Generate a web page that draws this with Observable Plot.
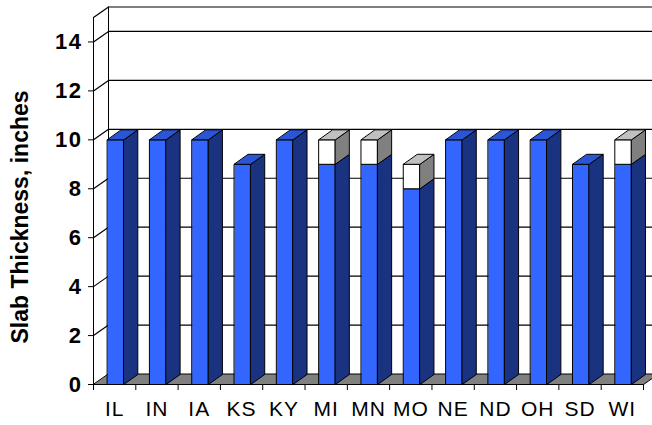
<!DOCTYPE html>
<html>
<head>
<meta charset="utf-8">
<script src="https://cdn.jsdelivr.net/npm/d3@7"></script>
<script src="https://cdn.jsdelivr.net/npm/@observablehq/plot@0.6"></script>
<style>
  html, body { margin: 0; padding: 0; background: #ffffff; }
  #chart { width: 652px; height: 425px; overflow: hidden; }
  g[aria-label="x-axis tick label"] text { letter-spacing: 1px; }
  g[aria-label="y-axis tick label"] text { letter-spacing: 1.5px; }
</style>
</head>
<body>
<div id="chart"></div>
<script>
// ---- data ----
const states = ["IL", "IN", "IA", "KS", "KY", "MI", "MN", "MO", "NE", "ND", "OH", "SD", "WI"];
const baseThickness = [10, 10, 10, 9, 10, 9, 9, 8, 10, 10, 10, 9, 9];
const extraThickness = [0, 0, 0, 0, 0, 1, 1, 1, 0, 0, 0, 0, 1];
const yTicks = [0, 2, 4, 6, 8, 10, 12, 14];
const yMax = 15;
const yTitle = "Slab Thickness, inches";

// ---- layout ----
const W = 652, H = 425;
const mL = 93, mR = 9, mT = 17, mB = 41;
const n = states.length;
const pxX = (W - mL - mR) / n;      // px per x unit (one category)
const pxY = (H - mT - mB) / yMax;   // px per y unit
// 3D depth offsets (pixels -> data units)
const wdx = 15 / pxX, wdy = 10.5 / pxY;   // walls / floor
const bdx = 14 / pxX, bdy = 10 / pxY;     // bars
const barOff = 14 / pxX, barW = 16.3 / pxX;

const font = "Arial, 'Liberation Sans', Helvetica, sans-serif";

function poly(list, id, pts) { pts.forEach(([x, y]) => list.push({id, x, y})); }

const blueFront = [], blueSide = [], blueTop = [], whiteFront = [], whiteSide = [], whiteTop = [];
states.forEach((s, i) => {
  const xl = i + barOff, xr = xl + barW;
  const segs = [{y0: 0, y1: baseThickness[i], f: blueFront, sd: blueSide, tp: blueTop}];
  if (extraThickness[i] > 0) {
    segs.push({y0: baseThickness[i], y1: baseThickness[i] + extraThickness[i], f: whiteFront, sd: whiteSide, tp: whiteTop});
  }
  segs.forEach((g, k) => {
    poly(g.f, s, [[xl, g.y0], [xr, g.y0], [xr, g.y1], [xl, g.y1]]);
    poly(g.sd, s, [[xr, g.y0], [xr + bdx, g.y0 + bdy], [xr + bdx, g.y1 + bdy], [xr, g.y1]]);
    if (k === segs.length - 1) {
      poly(g.tp, s, [[xl, g.y1], [xr, g.y1], [xr + bdx, g.y1 + bdy], [xl + bdx, g.y1 + bdy]]);
    }
  });
});

// walls: gridlines on side + back wall
const grid = [];
yTicks.filter(v => v > 0).concat([yMax]).forEach(v => {
  poly(grid, "g" + v, [[0, v], [wdx, v + wdy], [n + wdx, v + wdy]]);
});
const floor = [];
poly(floor, "floor", [[0, 0], [n, 0], [n + wdx, wdy], [wdx, wdy]]);

const face = (data, fill) => Plot.line(data, {
  x: "x", y: "y", z: "id", fill, stroke: "black", strokeWidth: 1,
  strokeLinejoin: "miter", curve: "linear-closed"
});

const chart = Plot.plot({
  width: W, height: H,
  marginLeft: mL, marginRight: mR, marginTop: mT, marginBottom: mB,
  x: {type: "linear", domain: [0, n]},
  y: {type: "linear", domain: [0, yMax]},
  style: {fontFamily: font, background: "white", color: "black"},
  marks: [
    Plot.line(grid, {x: "x", y: "y", z: "id", stroke: "black", strokeWidth: 1.2}),
    Plot.ruleX([0], {y1: 0, y2: yMax, stroke: "black"}),
    Plot.ruleX([wdx], {y1: wdy, y2: yMax + wdy, stroke: "black"}),
    face(floor, "#808080"),
    face(blueFront, "#3366FF"),
    face(blueSide, "#1A3380"),
    face(whiteFront, "#FFFFFF"),
    face(whiteSide, "#808080"),
    face(blueTop, "#2A55D5"),
    face(whiteTop, "#C0C0C0"),
    Plot.axisY(yTicks, {tickSize: 5, tickPadding: 6, fontSize: 22, fontWeight: "bold", label: null}),
    Plot.axisX(d3.range(n + 1), {tickSize: 6, tickFormat: () => "", label: null}),
    Plot.axisX(d3.range(n).map(i => i + 0.5), {
      tickSize: 0, tickPadding: 17, fontSize: 21, label: null,
      tickFormat: d => states[Math.floor(d)]
    }),
    Plot.text([yTitle], {
      frameAnchor: "left", textAnchor: "middle", lineAnchor: "middle",
      rotate: -90, dx: -72.5, dy: 16,
      fontSize: 23, fontWeight: "bold", fill: "black"
    })
  ]
});
document.getElementById("chart").appendChild(chart);
</script>
</body>
</html>
